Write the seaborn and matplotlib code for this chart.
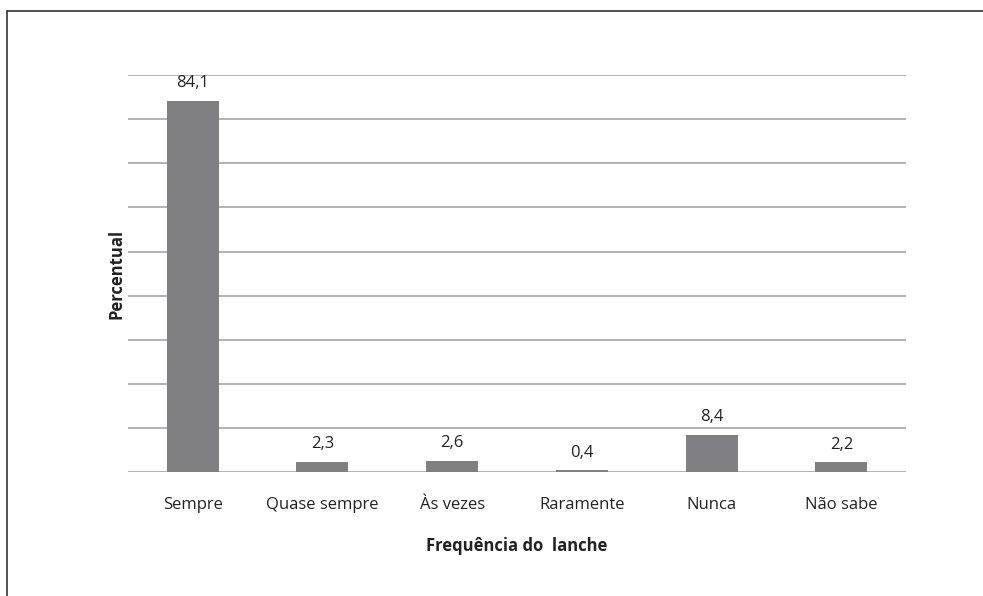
import matplotlib

matplotlib.use("Agg")
import matplotlib.pyplot as plt
import numpy as np
import pandas as pd
import seaborn as sns

categories = ["Sempre", "Quase sempre", "Às vezes", "Raramente", "Nunca", "Não sabe"]
percentual = [84.1, 2.3, 2.6, 0.4, 8.4, 2.2]
value_labels = ["84,1", "2,3", "2,6", "0,4", "8,4", "2,2"]
y_gridlines = [0, 10, 20, 30, 40, 50, 60, 70, 80, 90]

df = pd.DataFrame({"categoria": categories, "percentual": percentual})

sns.set_style("white")
plt.rcParams["font.family"] = ["Open Sans", "DejaVu Sans"]

fig = plt.figure(figsize=(9.83, 5.96), dpi=100, facecolor="white")
ax = fig.add_axes([0.130, 0.208, 0.792, 0.666])

sns.barplot(data=df, x="categoria", y="percentual", color="#808083",
            width=0.4, saturation=1, linewidth=0, edgecolor="none",
            ax=ax, zorder=3)

ax.set_ylim(0, 90)
ax.set_yticks(y_gridlines)
ax.set_yticklabels([])
ax.tick_params(axis="y", length=0)
ax.tick_params(axis="x", length=0, pad=18, labelsize=12, labelcolor="#222222")
ax.yaxis.grid(True, color="#a6a6a6", linewidth=1.2, zorder=0)
ax.set_axisbelow(True)
for s in ax.spines.values():
    s.set_visible(False)

for i, (v, lab) in enumerate(zip(percentual, value_labels)):
    ax.text(i, v + 2.2, lab, ha="center", va="bottom", fontsize=12, color="#222222")

ax.set_xlabel("Frequência do  lanche", fontsize=12, fontweight="bold",
              color="#222222", labelpad=17)
ax.set_ylabel("Percentual", fontsize=12, fontweight="bold", color="#222222", labelpad=-2)

# outer frame (left and top)
fig.add_artist(plt.Line2D([0.007, 0.007], [0, 0.982], color="#333333", lw=1.2,
                          transform=fig.transFigure))
fig.add_artist(plt.Line2D([0.007, 1.0], [0.982, 0.982], color="#333333", lw=1.2,
                          transform=fig.transFigure))

fig.savefig("out.png", dpi=100, facecolor="white")
plt.close(fig)
